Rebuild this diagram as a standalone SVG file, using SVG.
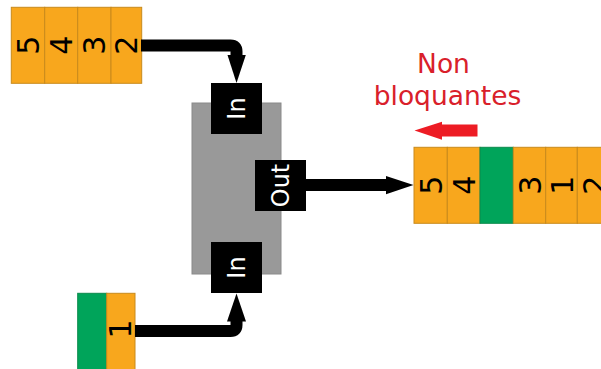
<svg xmlns="http://www.w3.org/2000/svg" width="601" height="369" viewBox="0 0 601 369">
<style>
.cell{fill:#f8a71d;stroke:#c98a1c;stroke-width:1}
.green{fill:#00a45a;stroke:#0a8a4c;stroke-width:1}
.port{fill:#000}
.dig{font-family:"DejaVu Sans",sans-serif;font-size:30px;fill:#000;text-anchor:middle}
.plab{font-family:"DejaVu Sans",sans-serif;font-size:24px;fill:#fff;text-anchor:middle}
.red{font-family:"DejaVu Sans",sans-serif;font-size:26.5px;fill:#d9202a;text-anchor:middle}
.wire{fill:none;stroke:#000;stroke-width:12;stroke-linejoin:round}
</style>
<rect width="601" height="369" fill="#fff"/>
<g id="queue-top">
<rect class="cell" x="11.3" y="7.3" width="33.4" height="76"/>
<rect class="cell" x="44.7" y="7.3" width="33" height="76"/>
<rect class="cell" x="77.7" y="7.3" width="33.3" height="76"/>
<rect class="cell" x="111" y="7.3" width="30.7" height="76"/>
<text class="dig" transform="translate(39,45.3) rotate(-90)">5</text>
<text class="dig" transform="translate(72,45.3) rotate(-90)">4</text>
<text class="dig" transform="translate(105.3,45.3) rotate(-90)">3</text>
<text class="dig" transform="translate(137.3,45.3) rotate(-90)">2</text>
</g>
<g id="block">
<rect x="192" y="103" width="89" height="171" fill="#999999" stroke="#8a8a8a" stroke-width="1"/>
</g>
<g id="in-top">
<rect class="port" x="211" y="83" width="51" height="51"/>
<text class="plab" transform="translate(245.3,108.5) rotate(-90)">In</text>
</g>
<g id="in-bottom">
<rect class="port" x="211" y="242" width="51" height="51"/>
<text class="plab" transform="translate(245.3,267.5) rotate(-90)">In</text>
</g>
<g id="out">
<rect class="port" x="255" y="160" width="51" height="51"/>
<text class="plab" transform="translate(289.3,185.5) rotate(-90)">Out</text>
</g>
<g id="queue-right">
<rect class="cell" x="414" y="147.3" width="33.3" height="76"/>
<rect class="cell" x="447.3" y="147.3" width="32.7" height="76"/>
<rect class="green" x="480" y="147.3" width="33.3" height="76"/>
<rect class="cell" x="513.3" y="147.3" width="32.4" height="76"/>
<rect class="cell" x="545.7" y="147.3" width="31.6" height="76"/>
<rect class="cell" x="577.3" y="147.3" width="33" height="76"/>
<text class="dig" transform="translate(441.6,185.3) rotate(-90)">5</text>
<text class="dig" transform="translate(474.6,185.3) rotate(-90)">4</text>
<text class="dig" transform="translate(540.5,185.3) rotate(-90)">3</text>
<text class="dig" transform="translate(572.5,185.3) rotate(-90)">1</text>
<text class="dig" transform="translate(604.8,185.3) rotate(-90)">2</text>
</g>
<g id="queue-bottom">
<rect class="green" x="77.7" y="293.3" width="29" height="80"/>
<rect class="cell" x="106.7" y="293.3" width="28.3" height="80"/>
<text class="dig" transform="translate(131,329) rotate(-90)">1</text>
</g>
<g id="label">
<text class="red" x="443.5" y="72.5">Non</text>
<text class="red" x="447.5" y="105">bloquantes</text>
<polygon points="414.5,130.5 442,121.7 442,124.4 477.5,124.4 477.5,136.6 442,136.6 442,139.8" fill="#ed1c24"/>
</g>
<g id="connectors">
<path class="wire" d="M141,45.5 H230.5 Q236.5,45.5 236.5,51.5 V57"/>
<polygon points="227.5,55 245.8,55 236.5,83"/>
<path class="wire" d="M306,185 H388" stroke-width="11.5"/>
<polygon points="386,176 386,194.3 413.5,185"/>
<path class="wire" d="M135,331 H230.5 Q236.5,331 236.5,325 V319"/>
<polygon points="227,321.5 246,321.5 236.5,293.5"/>
</g>
</svg>
